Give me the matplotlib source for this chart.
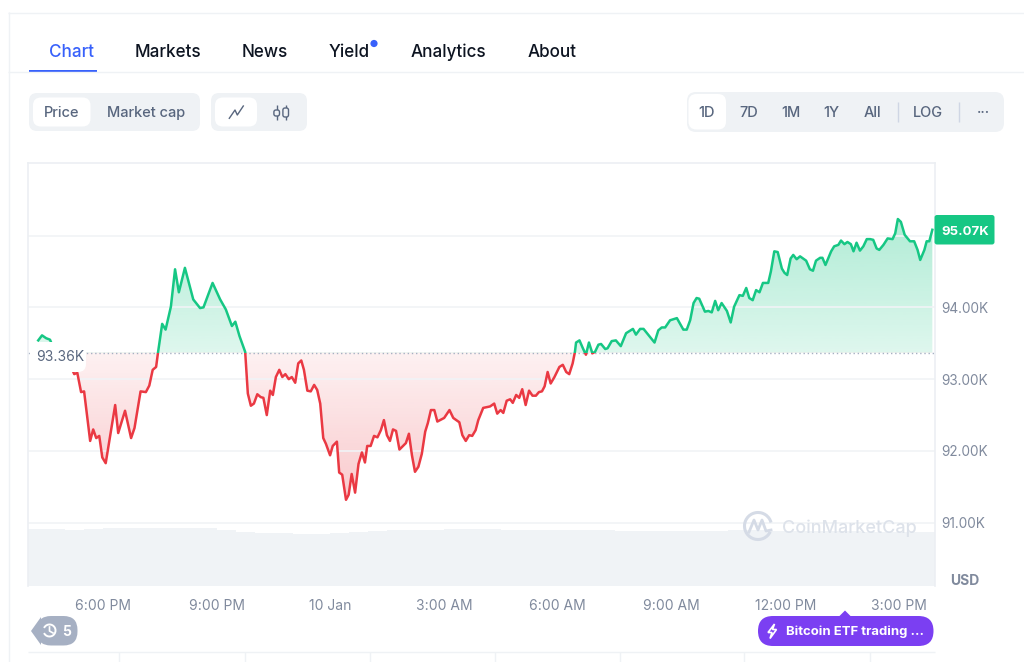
"""BTC/USD 1D price chart with the page controls around it."""
import matplotlib
matplotlib.use("Agg")
import matplotlib.pyplot as plt
import numpy as np
from matplotlib.patches import Arc, Circle, FancyBboxPatch, Polygon, Rectangle

plt.rcParams["font.family"] = ["Inter", "DejaVu Sans"]

GREEN = "#16c784"
RED = "#ea3943"
BLUE = "#3861fb"
GREY_TEXT = "#808a9d"
SLATE = "#58667e"
PANEL = "#eff2f5"
GRID = "#f1f3f6"

BASE_PRICE = 93.37
LAST_LABEL = "95.07K"
BASE_LABEL = "93.36K"

# hours since 4:00 PM, price in thousands of USD
hours = [
    0.29, 0.39, 0.50, 0.60, 0.71, 0.92, 1.19, 1.24, 1.32, 1.42, 1.50, 1.66, 1.74, 1.82, 1.90,
    1.98, 2.07, 2.32, 2.40, 2.58, 2.74, 2.83, 2.99, 3.13, 3.22, 3.31, 3.40, 3.45, 3.56, 3.65, 3.79,
    3.90, 4.00, 4.16, 4.38, 4.56, 4.65, 4.89, 5.09, 5.24, 5.40, 5.49, 5.60, 5.75, 5.82, 5.90, 5.98,
    6.07, 6.16, 6.23, 6.32, 6.41, 6.48, 6.56, 6.65, 6.73, 6.81, 6.90, 6.98, 7.07, 7.15, 7.23, 7.30,
    7.39, 7.48, 7.57, 7.65, 7.73, 7.81, 7.88, 7.99, 8.06, 8.17, 8.23, 8.31, 8.41, 8.48, 8.56, 8.65,
    8.74, 8.83, 8.91, 8.97, 9.06, 9.15, 9.24, 9.33, 9.41, 9.49, 9.57, 9.65, 9.73, 9.82, 9.99, 10.07,
    10.15, 10.23, 10.32, 10.41, 10.50, 10.57, 10.65, 10.74, 10.82, 11.00, 11.14, 11.24, 11.40, 11.48,
    11.57, 11.66, 11.74, 11.83, 11.90, 12.03, 12.21, 12.32, 12.40, 12.49, 12.56, 12.65, 12.74, 12.81,
    12.90, 12.98, 13.06, 13.15, 13.24, 13.33, 13.42, 13.50, 13.58, 13.65, 13.73, 13.81, 13.91, 14.04,
    14.13, 14.22, 14.30, 14.39, 14.45, 14.48, 14.57, 14.66, 14.74, 14.82, 14.91, 14.98, 15.07, 15.14,
    15.25, 15.31, 15.42, 15.53, 15.66, 15.80, 15.98, 16.06, 16.17, 16.26, 16.55, 16.65, 16.74, 16.83,
    16.96, 17.14, 17.31, 17.40, 17.49, 17.58, 17.66, 17.73, 17.88, 17.97, 18.06, 18.15, 18.23, 18.32,
    18.46, 18.56, 18.65, 18.79, 18.88, 18.97, 19.05, 19.14, 19.23, 19.32, 19.41, 19.55, 19.62, 19.71,
    19.80, 19.91, 19.98, 20.05, 20.14, 20.21, 20.30, 20.39, 20.55, 20.65, 20.73, 20.81, 20.92, 20.98,
    21.06, 21.21, 21.29, 21.40, 21.47, 21.56, 21.64, 21.73, 21.80, 21.88, 21.97, 22.06, 22.15, 22.24,
    22.32, 22.41, 22.48, 22.59, 22.70, 22.83, 22.90, 22.97, 23.05, 23.15, 23.29, 23.40, 23.49, 23.56,
    23.67, 23.73, 23.80, 23.88,
]
prices = [
    93.54, 93.61, 93.57, 93.55, 93.41, 93.24, 93.13, 93.07, 93.09, 92.82, 92.83, 92.14, 92.30, 92.18, 92.21,
    91.91, 91.83, 92.64, 92.25, 92.56, 92.18, 92.32, 92.83, 92.82, 92.91, 93.13, 93.17, 93.37, 93.77, 93.69, 94.01,
    94.53, 94.21, 94.55, 94.11, 93.99, 94.00, 94.34, 94.11, 93.97, 93.74, 93.80, 93.60, 93.38, 92.80, 92.63, 92.66,
    92.79, 92.75, 92.74, 92.50, 92.84, 92.78, 93.03, 93.13, 93.03, 93.07, 93.00, 93.03, 92.95, 93.22, 93.26, 93.13,
    92.84, 92.83, 92.92, 92.85, 92.66, 92.18, 92.10, 91.94, 92.07, 92.13, 91.70, 91.67, 91.32, 91.39, 91.68, 91.42,
    91.82, 91.98, 91.84, 92.07, 92.07, 92.21, 92.19, 92.29, 92.43, 92.22, 92.14, 92.30, 92.28, 92.02, 92.11, 92.24,
    91.94, 91.71, 91.78, 91.96, 92.27, 92.39, 92.57, 92.57, 92.41, 92.46, 92.57, 92.46, 92.40, 92.22,
    92.14, 92.22, 92.21, 92.29, 92.43, 92.60, 92.62, 92.66, 92.52, 92.57, 92.53, 92.70, 92.72, 92.67,
    92.78, 92.74, 92.86, 92.64, 92.84, 92.77, 92.77, 92.82, 92.83, 92.90, 93.10, 92.94, 93.03, 93.17,
    93.20, 93.10, 93.07, 93.22, 93.38, 93.51, 93.54, 93.43, 93.34, 93.51, 93.36, 93.38, 93.48, 93.49,
    93.42, 93.43, 93.53, 93.54, 93.46, 93.64, 93.70, 93.62, 93.70, 93.70, 93.51, 93.68, 93.72, 93.72,
    93.82, 93.85, 93.69, 93.69, 93.82, 94.06, 94.13, 94.12, 93.94, 93.95, 93.93, 94.09, 93.96, 94.06,
    93.95, 93.79, 94.01, 94.17, 94.16, 94.27, 94.13, 94.10, 94.24, 94.21, 94.34, 94.34, 94.50, 94.78,
    94.77, 94.54, 94.48, 94.45, 94.68, 94.73, 94.67, 94.71, 94.65, 94.53, 94.51, 94.65, 94.69, 94.69,
    94.59, 94.78, 94.85, 94.87, 94.93, 94.88, 94.91, 94.88, 94.78, 94.90, 94.79, 94.85, 94.95, 94.95,
    94.94, 94.82, 94.80, 94.87, 94.96, 94.95, 95.03, 95.23, 95.19, 95.01, 94.92, 94.92, 94.80, 94.66,
    94.80, 94.92, 94.92, 95.08,
]
# half-hourly volume, arbitrary units
volume = [
    57, 57, 56, 57, 58.5, 58.5, 58, 58, 58.5, 58, 56, 54, 53.5, 53, 52.5, 52,
    53, 54.5, 55, 56, 56, 56.5, 57, 57, 57, 56.5, 56.5, 56.5, 56, 56, 56, 55.5,
    55.5, 55.5, 55, 55, 55, 56, 56, 55, 55, 55, 55, 55, 54.5, 54.5, 54.5, 54.5,
]
time_ticks = [2, 5, 8, 11, 14, 17, 20, 23]
time_labels = ["6:00 PM", "9:00 PM", "10 Jan", "3:00 AM", "6:00 AM", "9:00 AM", "12:00 PM", "3:00 PM"]
price_ticks = [91, 92, 93, 94, 95]
price_labels = ["91.00K", "92.00K", "93.00K", "94.00K", ""]

tabs = ["Chart", "Markets", "News", "Yield", "Analytics", "About"]
tab_x = [72, 168, 265, 349, 448, 552]
ranges = ["1D", "7D", "1M", "1Y", "All", "LOG", "···"]
range_x = [707, 748.5, 790.5, 831.5, 872, 928, 983]

fig = plt.figure(figsize=(10.24, 6.62), dpi=100, facecolor="white")
rect = [28 / 1024, (662 - 586) / 662, 907 / 1024, 423 / 662]
XLIM = (0.02, 23.95)
YLIM = (90.12, 96.01)

# volume sits behind the price axes
ax_vol = fig.add_axes(rect)
ax_vol.bar(0.25 + 0.5 * np.arange(len(volume)), volume, width=0.5, color="#f0f3f6", linewidth=0)
ax_vol.set_xlim(*XLIM)
ax_vol.set_ylim(0, 423)
ax_vol.axis("off")

ax = fig.add_axes(rect)
ax.patch.set_alpha(0)
hh = np.array(hours)
pp = np.array(prices)

poly = ax.fill_between(hh, pp, BASE_PRICE, facecolor="none", edgecolor="none")
clip = poly.get_paths()[0]


def gradient(color, a_low, a_high, y0, y1):
    # vertical alpha ramp clipped to the area between line and base price
    rgba = np.zeros((256, 1, 4))
    rgba[..., :3] = matplotlib.colors.to_rgb(color)
    rgba[..., 3] = np.linspace(a_low, a_high, 256)[:, None]
    im = ax.imshow(rgba, extent=(0, 24, y0, y1), origin="lower", aspect="auto", zorder=1)
    im.set_clip_path(clip, ax.transData)


gradient(RED, 0.27, 0.07, 91.3, BASE_PRICE)
gradient(GREEN, 0.14, 0.34, BASE_PRICE, 95.25)

for color, y0, y1 in [(GREEN, BASE_PRICE, YLIM[1]), (RED, YLIM[0], BASE_PRICE)]:
    line, = ax.plot(hh, pp, color=color, lw=1.8, solid_joinstyle="round", zorder=2)
    line.set_clip_path(Rectangle((0, y0), 24, y1 - y0, transform=ax.transData))

ax.axhline(BASE_PRICE, color="#a6b0c3", lw=1, ls=(0, (1, 2)), zorder=1.8)

ax.set_xlim(*XLIM)
ax.set_ylim(*YLIM)
ax.set_xticks(time_ticks)
ax.set_xticklabels(time_labels)
ax.set_yticks(price_ticks)
ax.set_yticklabels(price_labels)
ax.yaxis.tick_right()
ax.tick_params(axis="x", length=0, pad=9, labelsize=10, labelcolor=GREY_TEXT)
ax.tick_params(axis="y", length=0, pad=4.5, labelsize=9.8, labelcolor=GREY_TEXT)
ax.grid(axis="y", color=GRID, lw=1.2)
ax.spines["bottom"].set_visible(False)
for side in ["top", "left", "right"]:
    ax.spines[side].set_color("#eceff3")
    ax.spines[side].set_linewidth(1.2)

# page furniture, drawn in pixel coordinates
ui = fig.add_axes([0, 0, 1, 1])
ui.set_xlim(0, 1024)
ui.set_ylim(662, 0)
ui.axis("off")
ui.patch.set_alpha(0)


def box(x0, y0, x1, y1, color, r=8, **kw):
    ui.add_patch(FancyBboxPatch((x0, y0), x1 - x0, y1 - y0, boxstyle=f"round,pad=0,rounding_size={r}",
                                facecolor=color, edgecolor="none", **kw))


def hline(y, x0, x1, color=PANEL, lw=1):
    ui.plot([x0, x1], [y, y], color=color, lw=lw, solid_capstyle="butt")


def vline(x, y0, y1, color=PANEL, lw=1):
    ui.plot([x, x], [y0, y1], color=color, lw=lw, solid_capstyle="butt")


hline(12.5, 8, 1024)
vline(8.5, 12, 662)
hline(72, 8, 1024)
hline(652, 28, 935)
for vx in [119, 245, 370, 495, 620, 744, 870]:
    vline(vx, 652, 662)

# tabs
for name, tx in zip(tabs, tab_x):
    ui.text(tx, 57, name, ha="center", va="baseline", fontsize=12.3, fontweight="medium",
            color=BLUE if name == "Chart" else "#0d1421")
ui.add_patch(Rectangle((29, 69.5), 68, 2.2, facecolor=BLUE, edgecolor="none"))
ui.add_patch(Circle((374, 43.5), 3.6, facecolor=BLUE, edgecolor="none"))

# left button groups
box(29, 93, 200, 131, PANEL)
box(33, 97.5, 90.5, 126.5, "white")
ui.text(62, 117, "Price", ha="center", va="baseline", fontsize=10.5, fontweight="medium", color=SLATE)
ui.text(146, 117, "Market cap", ha="center", va="baseline", fontsize=10.5, fontweight="medium", color=SLATE)
box(211, 93, 307, 131, PANEL)
box(215, 97.5, 257, 126.5, "white")
ui.plot([229.3, 235, 237.3, 243.3], [118.3, 110, 115, 106], color=SLATE, lw=1)
for cx, top, bot in [(276.7, 110, 116), (285.7, 108, 117)]:
    vline(cx, 105, 119.5, color=SLATE, lw=1)
    ui.add_patch(FancyBboxPatch((cx - 2.8, top), 5.6, bot - top, boxstyle="round,pad=0,rounding_size=2",
                                facecolor=PANEL, edgecolor=SLATE, lw=1, zorder=3))

# range buttons
box(687, 92, 1004, 132, PANEL, r=9)
box(688.5, 94, 726, 129.5, "white", r=8)
for name, rx in zip(ranges, range_x):
    ui.text(rx, 117, name, ha="center", va="baseline", fontsize=10.5, fontweight="medium", color=SLATE)
vline(898, 102, 122, color="#cfd6e4")
vline(958.5, 102, 122, color="#cfd6e4")

# base price label hides the start of the line
box(31, 342, 86, 372, "white", r=8, zorder=3)
ui.text(36, 361, BASE_LABEL, ha="left", va="baseline", fontsize=10, color=SLATE, zorder=4)

# last price tag
box(934.5, 215, 994.5, 244.5, GREEN, r=2.5)
ui.text(965, 235, LAST_LABEL, ha="center", va="baseline", fontsize=9.5, fontweight="bold", color="white")
ui.text(965, 585, "USD", ha="center", va="baseline", fontsize=10, fontweight="bold", color=GREY_TEXT)

# watermark
ui.add_patch(Arc((758, 526), 27, 27, theta1=25, theta2=345, color="#d5dbe6", lw=2.2))
ui.plot([749, 754, 758, 762, 766, 771], [532, 520, 530, 520, 531, 530], color="#d5dbe6", lw=2)
ui.text(849, 533, "CoinMarketCap", ha="center", va="baseline", fontsize=13, fontweight="medium", color="#dde2ea")

# history badge
ui.add_patch(Polygon([[31, 631], [41, 617], [41, 645]], facecolor="#a6b0c3", edgecolor="none"))
box(37, 616, 77.5, 645.5, "#a6b0c3", r=14)
ui.add_patch(Arc((49.5, 630.5), 12, 12, theta1=205, theta2=155, color="white", lw=1.4))
ui.plot([49.5, 49.5, 53], [627, 631, 633], color="white", lw=1.2)
ui.text(66.5, 635.5, "5", ha="center", va="baseline", fontsize=10, fontweight="bold", color="white")

# event pill
PURPLE = "#7b3ff2"
ui.add_patch(Polygon([[839, 616.5], [845, 610.5], [851, 616.5]], facecolor=PURPLE, edgecolor="none"))
box(758, 616, 933.5, 646, PURPLE, r=15)
ui.add_patch(Polygon([[774.5, 624], [768, 632.5], [772, 632.5], [770, 638.5], [776.5, 629.5], [772.5, 629.5]],
                     closed=True, facecolor="none", edgecolor="white", lw=1.2))
ui.text(786, 635.5, "Bitcoin ETF trading ...", ha="left", va="baseline", fontsize=9.45, fontweight="bold", color="white")

fig.savefig("out.png", dpi=100)
